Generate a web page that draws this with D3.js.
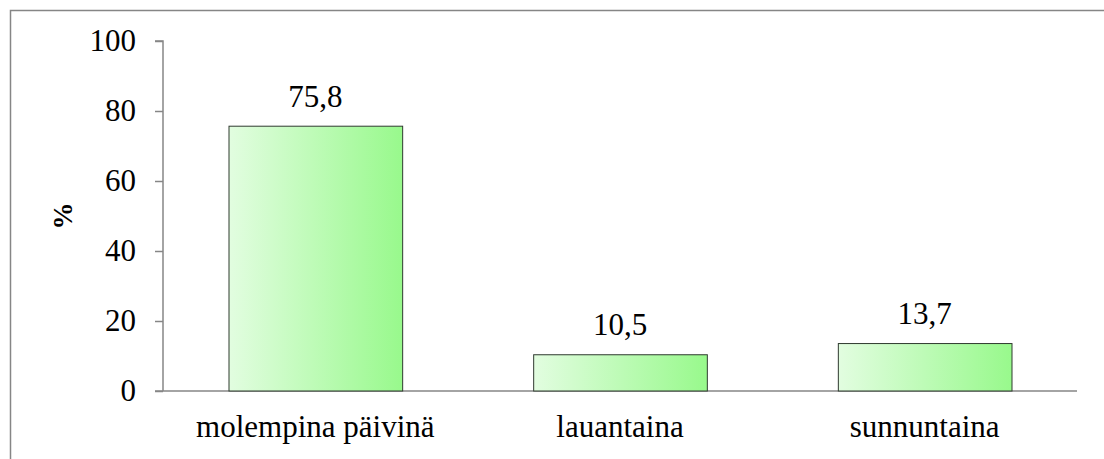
<!DOCTYPE html>
<html><head><meta charset="utf-8"><script src="https://cdn.jsdelivr.net/npm/d3@7"></script>
<style>
  .lbl { font-family: 'Times New Roman', 'Liberation Serif', Tinos, serif !important; }
</style>
</head>
<body style="margin:0">
<svg id="chart" width="1104" height="459"></svg>
<script>
const categories = ['molempina päivinä', 'lauantaina', 'sunnuntaina']
const values = [75.8, 10.5, 13.7]
const yTicks = [0, 20, 40, 60, 80, 100]
const yTitle = '%'

const width = 1104
const height = 459
const margin = { top: 41, right: 27, bottom: 68, left: 163 }
const fontList = "'Times New Roman', 'Liberation Serif', Tinos, serif"

const svg = d3.select('#chart')

// gradient fill for the bars
const grad = svg.append('defs').append('linearGradient')
    .attr('id', 'barFill')
    .attr('x1', '0%').attr('x2', '100%')
    .attr('y1', '0%').attr('y2', '0%')
grad.append('stop').attr('offset', '0%').attr('stop-color', '#e2fde0')
grad.append('stop').attr('offset', '100%').attr('stop-color', '#98f98c')

// outer frame
svg.append('rect')
    .attr('x', 10.5).attr('y', 10.5)
    .attr('width', width).attr('height', height)
    .attr('fill', 'none')
    .attr('stroke', '#868686')
    .attr('stroke-width', 1.5)

const x = d3.scaleBand()
    .domain(categories)
    .range([margin.left, width - margin.right])
    .paddingInner(0.43)
    .paddingOuter(0.215)

const y = d3.scaleLinear()
    .domain([0, 100])
    .range([height - margin.bottom, margin.top])

// y axis
const yAxis = svg.append('g')
    .attr('transform', `translate(${margin.left},0)`)
    .call(d3.axisLeft(y).tickValues(yTicks).tickSize(8).tickPadding(19))
yAxis.attr('font-family', fontList).attr('font-size', 31)
yAxis.selectAll('path, line').attr('stroke', '#868686').attr('stroke-width', 1.5)
yAxis.select('.domain').attr('d', `M-8,${y(100)}H0V${y(0)}`)
yAxis.selectAll('text')
    .attr('class', 'lbl')
    .attr('font-family', fontList)
    .attr('fill', '#000')

// x axis line
svg.append('line')
    .attr('x1', margin.left - 8).attr('x2', width - margin.right)
    .attr('y1', y(0)).attr('y2', y(0))
    .attr('stroke', '#868686')
    .attr('stroke-width', 1.5)

// bars
svg.append('g')
    .selectAll('rect')
    .data(values)
    .join('rect')
    .attr('x', (d, i) => x(categories[i]) + 0.5)
    .attr('y', d => y(d) + 0.5)
    .attr('width', x.bandwidth())
    .attr('height', d => y(0) - y(d) - 0.5)
    .attr('fill', 'url(#barFill)')
    .attr('stroke', '#2f3a2f')
    .attr('stroke-width', 1)

// value labels
svg.append('g')
    .selectAll('text')
    .data(values)
    .join('text')
    .attr('class', 'lbl')
    .attr('x', (d, i) => x(categories[i]) + x.bandwidth() / 2)
    .attr('y', d => y(d) - 19)
    .attr('text-anchor', 'middle')
    .attr('font-family', fontList)
    .attr('font-size', 31)
    .text(d => d.toFixed(1).replace('.', ','))

// category labels
svg.append('g')
    .selectAll('text')
    .data(categories)
    .join('text')
    .attr('class', 'lbl')
    .attr('x', d => x(d) + x.bandwidth() / 2)
    .attr('y', 437)
    .attr('text-anchor', 'middle')
    .attr('font-family', fontList)
    .attr('font-size', 31)
    .text(d => d)

// y title
svg.append('text')
    .attr('class', 'lbl')
    .attr('transform', `translate(72,${(y(0) + y(100)) / 2}) rotate(-90)`)
    .attr('text-anchor', 'middle')
    .attr('font-family', fontList)
    .attr('font-size', 27)
    .attr('font-weight', 'bold')
    .text(yTitle)
</script>
</body></html>
